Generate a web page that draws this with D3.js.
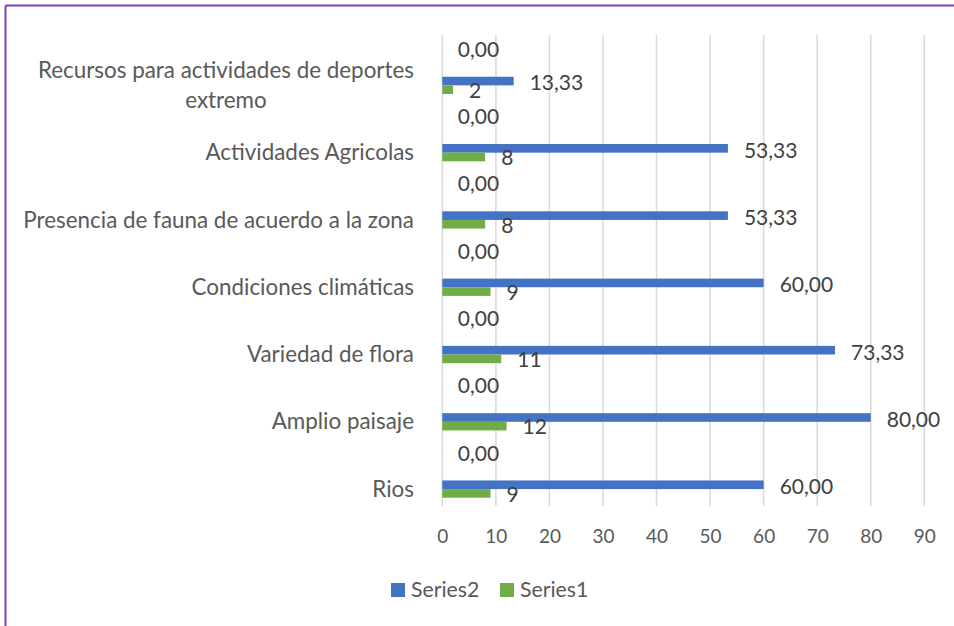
<!DOCTYPE html>
<html>
<head>
<meta charset="utf-8">
<script src="https://cdn.jsdelivr.net/npm/d3@7"></script>
<style>
  html, body { margin: 0; padding: 0; background: #ffffff; }
  svg { display: block; }
  text { font-family: Lato, "Open Sans", sans-serif; }
</style>
</head>
<body>
<svg id="chart" width="954" height="626"></svg>
<script>
// ---- data ----
const categories = [
  "Recursos para actividades de deportes|extremo",
  "Actividades Agricolas",
  "Presencia de fauna de acuerdo a la zona",
  "Condiciones climáticas",
  "Variedad de flora",
  "Amplio paisaje",
  "Rios"
];
const series2 = [13.33, 53.33, 53.33, 60.00, 73.33, 80.00, 60.00];
const series1 = [2, 8, 8, 9, 11, 12, 9];
const series3 = [0, 0, 0, 0, 0, 0, 0];
const xTicks = [0, 10, 20, 30, 40, 50, 60, 70, 80, 90];
const legendNames = ["Series2", "Series1"];

const blue = "#4472C4", green = "#70AD47";
const svg = d3.select("#chart");

// frame (top + left purple lines)
svg.append("line").attr("x1", 5.5).attr("x2", 954).attr("y1", 5.5).attr("y2", 5.5)
  .attr("stroke", "#7F3FB3").attr("stroke-width", 2);
svg.append("line").attr("x1", 5.5).attr("x2", 5.5).attr("y1", 5.5).attr("y2", 626)
  .attr("stroke", "#7F3FB3").attr("stroke-width", 2);

const x = d3.scaleLinear().domain([0, 90]).range([442.3, 924.3]);
const y = d3.scaleBand().domain(categories).range([35, 506]).padding(0);
const bw = y.bandwidth();
const y1 = d3.scaleBand().domain(["s3", "s2", "s1"])
  .range([bw * 0.492, bw * 0.877]).padding(0);

// gridlines
svg.append("g").selectAll("line").data(xTicks).join("line")
  .attr("x1", d => x(d)).attr("x2", d => x(d))
  .attr("y1", 35).attr("y2", 506)
  .attr("stroke", "#D9D9D9").attr("stroke-width", 1.5);

// x axis tick labels
const xAxis = d3.axisBottom(x).tickValues(xTicks).tickSize(0).tickPadding(0)
  .tickFormat(d => d);
const gx = svg.append("g").attr("transform", "translate(0,536.5)").call(xAxis);
gx.select(".domain").remove();
gx.selectAll("text").attr("fill", "#595959").attr("font-size", 19)
  .attr("dy", "0.35em").attr("y", 0)
  .style("font-family", "Lato, sans-serif");

// category labels
const catG = svg.append("g");
categories.forEach(c => {
  const lines = c.split("|");
  const t = catG.append("text").attr("fill", "#595959").attr("font-size", 22.4);
  const cy = y(c) + bw * 0.745;
  const lh = 30;
  const startY = cy - (lines.length - 1) * lh / 2;
  lines.forEach((ln, i) => {
    t.append("tspan").attr("y", startY + i * lh).attr("dy", "0.35em").text(ln);
  });
  // center-align lines in a right-aligned box
  const tsp = t.selectAll("tspan").nodes();
  const maxW = d3.max(tsp, n => n.getComputedTextLength());
  const right = 414;
  t.selectAll("tspan").attr("x", right - maxW / 2).attr("text-anchor", "middle");
});

// bars
const rows = categories.map((c, i) => ({ c, s2: series2[i], s1: series1[i], s3: series3[i] }));
const barsG = svg.append("g");
barsG.selectAll("rect.s2").data(rows).join("rect").attr("class", "s2")
  .attr("x", x(0)).attr("y", d => y(d.c) + y1("s2"))
  .attr("width", d => x(d.s2) - x(0)).attr("height", y1.bandwidth())
  .attr("fill", blue);
barsG.selectAll("rect.s1").data(rows).join("rect").attr("class", "s1")
  .attr("x", x(0)).attr("y", d => y(d.c) + y1("s1"))
  .attr("width", d => x(d.s1) - x(0)).attr("height", y1.bandwidth())
  .attr("fill", green);

// data labels
const fmt2 = v => v.toFixed(2).replace(".", ",");
const lblG = svg.append("g").attr("fill", "#404040").attr("font-size", 21);
lblG.selectAll("text.l3").data(rows).join("text").attr("class", "l3")
  .attr("x", d => x(d.s3) + 15.5).attr("y", d => y(d.c) + bw * 0.215)
  .attr("dy", "0.35em").text(d => fmt2(d.s3));
lblG.selectAll("text.l2").data(rows).join("text").attr("class", "l2")
  .attr("x", d => x(d.s2) + 16).attr("y", d => y(d.c) + y1("s2") + y1.bandwidth() / 2 + 2)
  .attr("dy", "0.35em").text(d => fmt2(d.s2));
lblG.selectAll("text.l1").data(rows).join("text").attr("class", "l1")
  .attr("x", d => x(d.s1) + 16).attr("y", d => y(d.c) + y1("s1") + y1.bandwidth() / 2 + 1)
  .attr("dy", "0.35em").text(d => d.s1);

// legend
const legend = svg.append("g");
const legX = [391, 500];
legendNames.forEach((n, i) => {
  legend.append("rect").attr("x", legX[i]).attr("y", 583).attr("width", 14).attr("height", 14)
    .attr("fill", i === 0 ? blue : green);
  legend.append("text").attr("x", legX[i] + 20).attr("y", 590).attr("dy", "0.35em")
    .attr("fill", "#595959").attr("font-size", 21.3).text(n);
});
</script>
</body>
</html>
